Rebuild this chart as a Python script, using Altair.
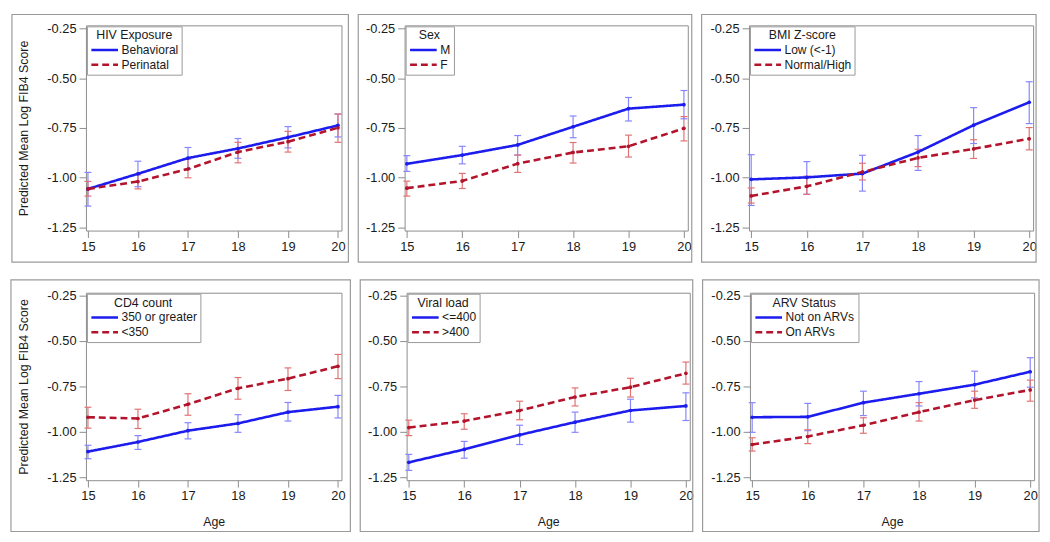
import altair as alt
import pandas as pd

ages = [15, 16, 17, 18, 19, 20]

# Panel 1: HIV Exposure
p1_title = "HIV Exposure"
p1_groups = ["Behavioral", "Perinatal"]
p1_a_mean = [-1.056, -0.980, -0.901, -0.853, -0.797, -0.737]
p1_a_lo = [-1.142, -1.045, -0.955, -0.902, -0.850, -0.795]
p1_a_hi = [-0.973, -0.917, -0.848, -0.803, -0.743, -0.680]
p1_b_mean = [-1.056, -1.019, -0.956, -0.871, -0.819, -0.749]
p1_b_lo = [-1.092, -1.056, -1.000, -0.925, -0.871, -0.822]
p1_b_hi = [-1.018, -0.985, -0.906, -0.822, -0.767, -0.680]

# Panel 2: Sex
p2_title = "Sex"
p2_groups = ["M", "F"]
p2_a_mean = [-0.930, -0.886, -0.835, -0.744, -0.653, -0.633]
p2_a_lo = [-0.968, -0.930, -0.886, -0.799, -0.715, -0.704]
p2_a_hi = [-0.889, -0.842, -0.788, -0.690, -0.597, -0.562]
p2_b_mean = [-1.052, -1.016, -0.929, -0.873, -0.842, -0.752]
p2_b_lo = [-1.092, -1.054, -0.973, -0.926, -0.896, -0.815]
p2_b_hi = [-1.017, -0.978, -0.886, -0.823, -0.786, -0.693]

# Panel 3: BMI Z-score
p3_title = "BMI Z-score"
p3_groups = ["Low (<-1)", "Normal/High"]
p3_a_mean = [-1.008, -0.998, -0.979, -0.871, -0.736, -0.621]
p3_a_lo = [-1.139, -1.083, -1.067, -0.963, -0.828, -0.728]
p3_a_hi = [-0.884, -0.919, -0.887, -0.788, -0.648, -0.518]
p3_b_mean = [-1.091, -1.043, -0.971, -0.900, -0.855, -0.804]
p3_b_lo = [-1.127, -1.083, -1.011, -0.944, -0.903, -0.860]
p3_b_hi = [-1.051, -0.992, -0.927, -0.857, -0.809, -0.748]

# Panel 4: CD4 count
p4_title = "CD4 count"
p4_groups = ["350 or greater", "<350"]
p4_a_mean = [-1.108, -1.055, -0.993, -0.953, -0.891, -0.861]
p4_a_lo = [-1.147, -1.096, -1.038, -1.002, -0.940, -0.923]
p4_a_hi = [-1.073, -1.020, -0.949, -0.905, -0.838, -0.799]
p4_b_mean = [-0.919, -0.926, -0.848, -0.760, -0.707, -0.639]
p4_b_lo = [-0.979, -0.981, -0.908, -0.820, -0.772, -0.707]
p4_b_hi = [-0.864, -0.875, -0.790, -0.701, -0.648, -0.574]

# Panel 5: Viral load
p5_title = "Viral load"
p5_groups = ["<=400", ">400"]
p5_a_mean = [-1.167, -1.096, -1.016, -0.946, -0.882, -0.857]
p5_a_lo = [-1.211, -1.144, -1.069, -1.002, -0.946, -0.937]
p5_a_hi = [-1.123, -1.052, -0.963, -0.891, -0.820, -0.785]
p5_b_mean = [-0.976, -0.940, -0.882, -0.808, -0.754, -0.678]
p5_b_lo = [-1.020, -0.985, -0.933, -0.857, -0.808, -0.737]
p5_b_hi = [-0.935, -0.900, -0.831, -0.758, -0.705, -0.616]

# Panel 6: ARV Status
p6_title = "ARV Status"
p6_groups = ["Not on ARVs", "On ARVs"]
p6_a_mean = [-0.919, -0.917, -0.839, -0.790, -0.740, -0.669]
p6_a_lo = [-1.002, -0.993, -0.910, -0.857, -0.813, -0.754]
p6_a_hi = [-0.839, -0.843, -0.776, -0.723, -0.666, -0.592]
p6_b_mean = [-1.069, -1.025, -0.963, -0.891, -0.825, -0.769]
p6_b_lo = [-1.105, -1.064, -1.007, -0.940, -0.870, -0.831]
p6_b_hi = [-1.032, -0.988, -0.922, -0.839, -0.776, -0.715]

y_ticks = [-1.25, -1.0, -0.75, -0.5, -0.25]
y_title = "Predicted Mean Log FIB4 Score"
x_title = "Age"

BLUE = "#1c1cee"
RED = "#b3132b"
BLUE_L = "#8585ff"
RED_L = "#e27272"
FONT = "Liberation Sans"
Y_LABEL_EXPR = "replace(format(datum.value, '.2f'), '\u2212', '-')"


def make_df(groups, am, al, ah, bm, bl, bh):
    rows = []
    for g, m, lo, hi in ((groups[0], am, al, ah), (groups[1], bm, bl, bh)):
        for i, a in enumerate(ages):
            rows.append({"age": a, "group": g, "mean": m[i], "lo": lo[i], "hi": hi[i]})
    return pd.DataFrame(rows)


def panel(title, groups, data, W, H, left, right, top, bottom, show_y_title, show_x_title):
    df = make_df(groups, *data)
    xs = alt.Scale(domain=[14.96, 20.07], nice=False, zero=False)
    ys = alt.Scale(domain=[-1.265, -0.235], nice=False, zero=False)
    xaxis = alt.Axis(values=ages, format="d", title=x_title if show_x_title else None,
                     titlePadding=13)
    yaxis = alt.Axis(values=y_ticks, labelExpr=Y_LABEL_EXPR,
                     title=y_title if show_y_title else None, titlePadding=17)
    X = alt.X("age:Q", scale=xs, axis=xaxis)
    Y = alt.Y("mean:Q", scale=ys, axis=yaxis)
    col_scale = alt.Scale(domain=groups, range=[BLUE, RED])
    dash_scale = alt.Scale(domain=groups, range=[[1, 0], [7, 4]])
    leg = alt.Legend(title=title, symbolType="M-1,0H4.4")
    is_a = alt.datum.group == groups[0]
    light = alt.condition(is_a, alt.value(BLUE_L), alt.value(RED_L))
    dark = alt.condition(is_a, alt.value(BLUE), alt.value(RED))

    border = alt.Chart(pd.DataFrame({"k": [0]})).mark_rect(
        filled=False, stroke="#9a9a9a", strokeWidth=1.2
    ).encode(
        x=alt.value(-left), x2=alt.value(W + right),
        y=alt.value(-top), y2=alt.value(H + bottom)
    )
    base = alt.Chart(df)
    err = base.mark_rule(strokeWidth=1.2).encode(
        x=X, y=alt.Y("lo:Q", scale=ys, axis=yaxis), y2="hi:Q", stroke=light
    )
    cap_lo = base.mark_rule(strokeWidth=1.2, xOffset=-3.5, x2Offset=3.5).encode(
        x=X, x2="age:Q", y=alt.Y("lo:Q", scale=ys, axis=yaxis), stroke=light
    )
    cap_hi = base.mark_rule(strokeWidth=1.2, xOffset=-3.5, x2Offset=3.5).encode(
        x=X, x2="age:Q", y=alt.Y("hi:Q", scale=ys, axis=yaxis), stroke=light
    )
    line = base.mark_line(strokeWidth=2.6).encode(
        x=X, y=Y,
        color=alt.Color("group:N", scale=col_scale, legend=leg),
        strokeDash=alt.StrokeDash("group:N", scale=dash_scale, legend=leg),
    )
    pts = base.mark_circle(size=14, opacity=1).encode(x=X, y=Y, fill=dark)
    return alt.layer(border, err, cap_lo, cap_hi, line, pts).properties(width=W, height=H)


W1, W2, W3 = 259, 287, 288
H1, H2 = 208, 190

p1 = panel(p1_title, p1_groups, (p1_a_mean, p1_a_lo, p1_a_hi, p1_b_mean, p1_b_lo, p1_b_hi),
           W1, H1, 75, 7, 11, 32, True, False)
p2 = panel(p2_title, p2_groups, (p2_a_mean, p2_a_lo, p2_a_hi, p2_b_mean, p2_b_lo, p2_b_hi),
           W2, H1, 47, 4, 11, 32, False, False)
p3 = panel(p3_title, p3_groups, (p3_a_mean, p3_a_lo, p3_a_hi, p3_b_mean, p3_b_lo, p3_b_hi),
           W3, H1, 48, 3, 11, 32, False, False)
p4 = panel(p4_title, p4_groups, (p4_a_mean, p4_a_lo, p4_a_hi, p4_b_mean, p4_b_lo, p4_b_hi),
           W1, H2, 76, 9, 13, 52, True, True)
p5 = panel(p5_title, p5_groups, (p5_a_mean, p5_a_lo, p5_a_hi, p5_b_mean, p5_b_lo, p5_b_hi),
           W2, H2, 47, 3, 13, 52, False, True)
p6 = panel(p6_title, p6_groups, (p6_a_mean, p6_a_lo, p6_a_hi, p6_b_mean, p6_b_lo, p6_b_hi),
           W3, H2, 48, 5, 13, 52, False, True)

ind = dict(color="independent", strokeDash="independent", x="independent", y="independent")

row1 = alt.hconcat(p1, p2, p3, spacing=6).resolve_scale(**ind).resolve_legend(
    color="independent", strokeDash="independent")
row2 = alt.hconcat(p4, p5, p6, spacing=6).resolve_scale(**ind).resolve_legend(
    color="independent", strokeDash="independent")

chart = alt.vconcat(row1, row2, spacing=14).resolve_scale(**ind).resolve_legend(
    color="independent", strokeDash="independent"
).properties(padding=1).configure_view(
    stroke="#8c8c8c", strokeWidth=1
).configure_axis(
    domain=False, grid=False,
    labelFont=FONT, labelFontSize=13, labelColor="#1a1a1a", labelPadding=3,
    tickColor="#8c8c8c", tickSize=7, tickWidth=1,
    titleFont=FONT, titleFontSize=12.5, titleFontWeight="normal", titleColor="#1a1a1a",
).configure_legend(
    orient="top-left", offset=1, padding=3,
    strokeColor="#999999", fillColor="white", cornerRadius=0,
    titleFont=FONT, titleFontSize=12.5, titleFontWeight="normal", titleColor="#1a1a1a",
    titleAnchor="middle", titlePadding=2,
    labelFont=FONT, labelFontSize=12.2, labelColor="#1a1a1a", labelOffset=19,
    symbolSize=100, symbolStrokeWidth=2.5, rowPadding=2, labelLimit=200,
)

chart.save("out.html", embed_options={"renderer": "svg", "actions": False})
